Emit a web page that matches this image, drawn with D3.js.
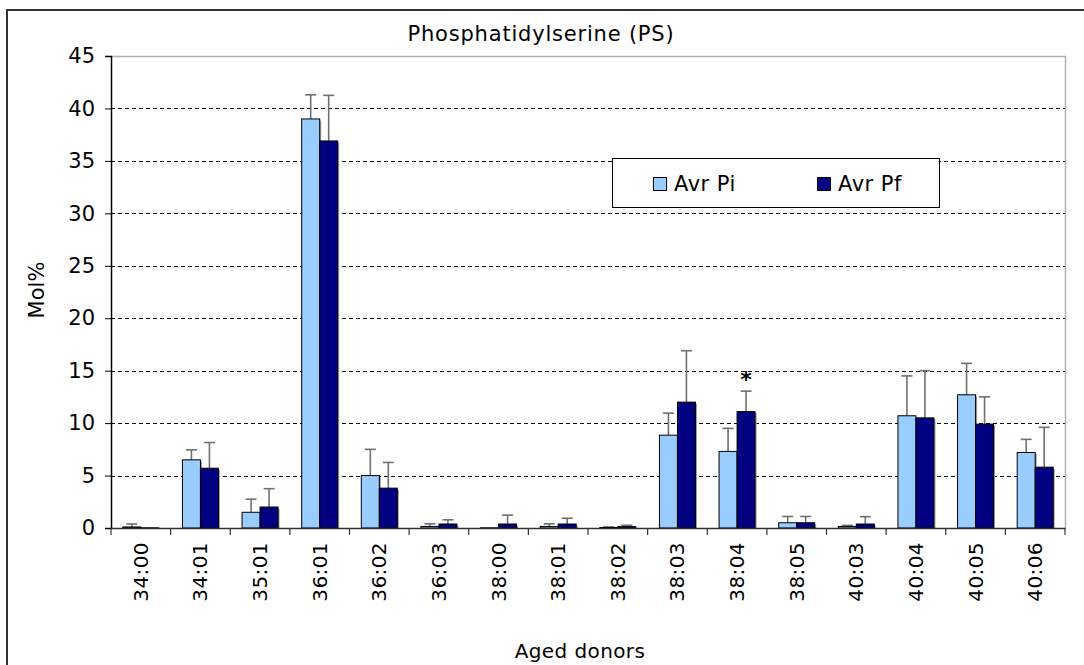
<!DOCTYPE html>
<html>
<head>
<meta charset="utf-8">
<script src="https://cdn.jsdelivr.net/npm/d3@7"></script>
<style>
  html, body { margin: 0; padding: 0; background: #fff; }
  svg { display: block; }
  text { font-family: "DejaVu Sans", Verdana, sans-serif; fill: #000; }
</style>
</head>
<body>
<svg id="chart" width="1084" height="665"></svg>
<script>
// Molecular species (carbons:double bonds)
const categories = ["34:00","34:01","35:01","36:01","36:02","36:03","38:00","38:01",
                    "38:02","38:03","38:04","38:05","40:03","40:04","40:05","40:06"];
const seriesNames = ["Avr Pi", "Avr Pf"];

// Mean Mol% per species
const avrPi = [0.1, 6.5, 1.5, 39.0, 5.0, 0.15, 0.02, 0.15, 0.05, 8.85, 7.3, 0.5, 0.15, 10.7, 12.7, 7.2];
const avrPf = [0.02, 5.7, 2.0, 36.9, 3.8, 0.38, 0.38, 0.38, 0.13, 12.0, 11.1, 0.5, 0.38, 10.5, 9.9, 5.8];

// Standard deviations (upper error bars)
const sdPi = [0.28, 0.95, 1.25, 2.3, 2.5, 0.25, 0.0, 0.25, 0.05, 2.1, 2.2, 0.6, 0.1, 3.8, 3.0, 1.25];
const sdPf = [0.0, 2.45, 1.75, 4.35, 2.45, 0.4, 0.85, 0.55, 0.13, 4.9, 1.95, 0.6, 0.7, 4.5, 2.6, 3.8];

// Significant differences, marked with an asterisk
const significant = ["38:04"];

const yTicks = [0, 5, 10, 15, 20, 25, 30, 35, 40, 45];
const colors = ["#99ccff", "#000080"];

const svg = d3.select("#chart");
const plot = { left: 111, right: 1065, top: 56, bottom: 528 };

// Outer chart frame
svg.append("rect")
  .attr("x", 7).attr("y", 10)
  .attr("width", 1100).attr("height", 700)
  .attr("fill", "#fff").attr("stroke", "#333").attr("stroke-width", 2);

const x = d3.scaleBand().domain(categories).range([plot.left, plot.right]).padding(0);
const x1 = d3.scaleBand().domain(seriesNames).range([0, x.bandwidth()])
  .paddingInner(0).paddingOuter(0.656);
const y = d3.scaleLinear().domain([0, 45]).range([plot.bottom, plot.top]);

// Gridlines
svg.append("g")
  .selectAll("line")
  .data(yTicks.filter(t => t > 0 && t < 45))
  .join("line")
  .attr("x1", plot.left).attr("x2", plot.right)
  .attr("y1", d => Math.round(y(d)) + 0.5).attr("y2", d => Math.round(y(d)) + 0.5)
  .attr("stroke", "#000").attr("stroke-dasharray", "4,3");

// Plot area border (top and right)
svg.append("path")
  .attr("d", `M${plot.left},${plot.top + 0.5}H${plot.right + 0.5}V${plot.bottom}`)
  .attr("fill", "none").attr("stroke", "#b0b0b0").attr("stroke-width", 1.5);

const rows = categories.map((c, i) => ({
  cat: c,
  vals: [
    { s: seriesNames[0], v: avrPi[i], sd: sdPi[i], c: colors[0] },
    { s: seriesNames[1], v: avrPf[i], sd: sdPf[i], c: colors[1] }
  ]
}));

const groups = svg.append("g").selectAll("g")
  .data(rows).join("g")
  .attr("transform", d => `translate(${x(d.cat)},0)`);

// Error bars (upper only)
groups.selectAll("g.err")
  .data(d => d.vals.filter(v => v.sd > 0))
  .join("g").attr("class", "err")
  .each(function(d) {
    const g = d3.select(this);
    const cx = x1(d.s) + x1.bandwidth() / 2;
    g.append("line")
      .attr("x1", cx).attr("x2", cx)
      .attr("y1", y(d.v)).attr("y2", y(d.v + d.sd))
      .attr("stroke", "#707070").attr("stroke-width", 1.6);
    g.append("line")
      .attr("x1", cx - 5.5).attr("x2", cx + 5.5)
      .attr("y1", y(d.v + d.sd)).attr("y2", y(d.v + d.sd))
      .attr("stroke", "#707070").attr("stroke-width", 1.6);
  });

// Bar shadows
groups.selectAll("rect.shadow")
  .data(d => d.vals.filter(v => v.v > 0.3))
  .join("rect").attr("class", "shadow")
  .attr("x", d => x1(d.s) + 1.5)
  .attr("width", x1.bandwidth())
  .attr("y", d => y(d.v) + 1.5)
  .attr("height", d => y(0) - y(d.v) - 1.5)
  .attr("fill", "#9a9a9a");

// Bars
groups.selectAll("rect.bar")
  .data(d => d.vals)
  .join("rect").attr("class", "bar")
  .attr("x", d => x1(d.s))
  .attr("width", x1.bandwidth())
  .attr("y", d => y(d.v))
  .attr("height", d => y(0) - y(d.v))
  .attr("fill", d => d.c)
  .attr("stroke", "#000").attr("stroke-width", 1);

// Significance markers
svg.append("g").selectAll("text")
  .data(significant)
  .join("text")
  .attr("x", d => x(d) + x1(seriesNames[1]) + x1.bandwidth() / 2)
  .attr("y", d => {
    const i = categories.indexOf(d);
    return y(avrPf[i] + sdPf[i]) - 4;
  })
  .attr("text-anchor", "middle")
  .style("font-size", "22px").style("font-weight", "bold")
  .text("*");

// Y axis
const yAxis = svg.append("g")
  .attr("transform", `translate(${plot.left},0)`)
  .call(d3.axisLeft(y).tickValues(yTicks).tickSize(6).tickPadding(10).tickFormat(d3.format("d")));
yAxis.select(".domain").attr("stroke", "#000").attr("stroke-width", 1.5);
yAxis.selectAll(".tick line").attr("stroke", "#000");
yAxis.selectAll(".tick text").style("font-size", "21px").style("font-family", "DejaVu Sans");

// X axis
const xAxis = svg.append("g")
  .attr("transform", `translate(0,${plot.bottom})`)
  .call(d3.axisBottom(x).tickSize(0).tickPadding(0));
xAxis.select(".domain").attr("stroke", "#333").attr("stroke-width", 1.5);
xAxis.selectAll(".tick text")
  .attr("transform", "rotate(-90)")
  .attr("x", -14).attr("y", 0).attr("dy", "0.35em")
  .attr("text-anchor", "end")
  .style("font-size", "20px").style("letter-spacing", "0.4px")
  .style("font-family", "DejaVu Sans");
// Category separator ticks
svg.append("g").selectAll("line")
  .data(categories.concat([null]))
  .join("line")
  .attr("x1", (d, i) => i < categories.length ? x(d) : plot.right)
  .attr("x2", (d, i) => i < categories.length ? x(d) : plot.right)
  .attr("y1", plot.bottom).attr("y2", plot.bottom + 7)
  .attr("stroke", "#333").attr("stroke-width", 1.2);

// Titles
svg.append("text")
  .attr("x", 541).attr("y", 41)
  .attr("text-anchor", "middle")
  .style("font-size", "21px").style("letter-spacing", "0.8px")
  .text("Phosphatidylserine (PS)");

svg.append("text")
  .attr("transform", "translate(44,290) rotate(-90)")
  .attr("text-anchor", "middle")
  .style("font-size", "21px")
  .text("Mol%");

svg.append("text")
  .attr("x", 580).attr("y", 658)
  .attr("text-anchor", "middle")
  .style("font-size", "20px").style("letter-spacing", "0.4px")
  .text("Aged donors");

// Legend
const legend = svg.append("g");
legend.append("rect")
  .attr("x", 612.5).attr("y", 158.5).attr("width", 327).attr("height", 49)
  .attr("fill", "#fff").attr("stroke", "#000").attr("stroke-width", 1);
const legX = [653, 817];
seriesNames.forEach((s, i) => {
  legend.append("rect")
    .attr("x", legX[i] + 0.5).attr("y", 177.5).attr("width", 13).attr("height", 13)
    .attr("fill", colors[i]).attr("stroke", "#000");
  legend.append("text")
    .attr("x", legX[i] + 21).attr("y", 191)
    .style("font-size", "21px").style("letter-spacing", "0.5px")
    .text(s);
});
</script>
</body>
</html>
